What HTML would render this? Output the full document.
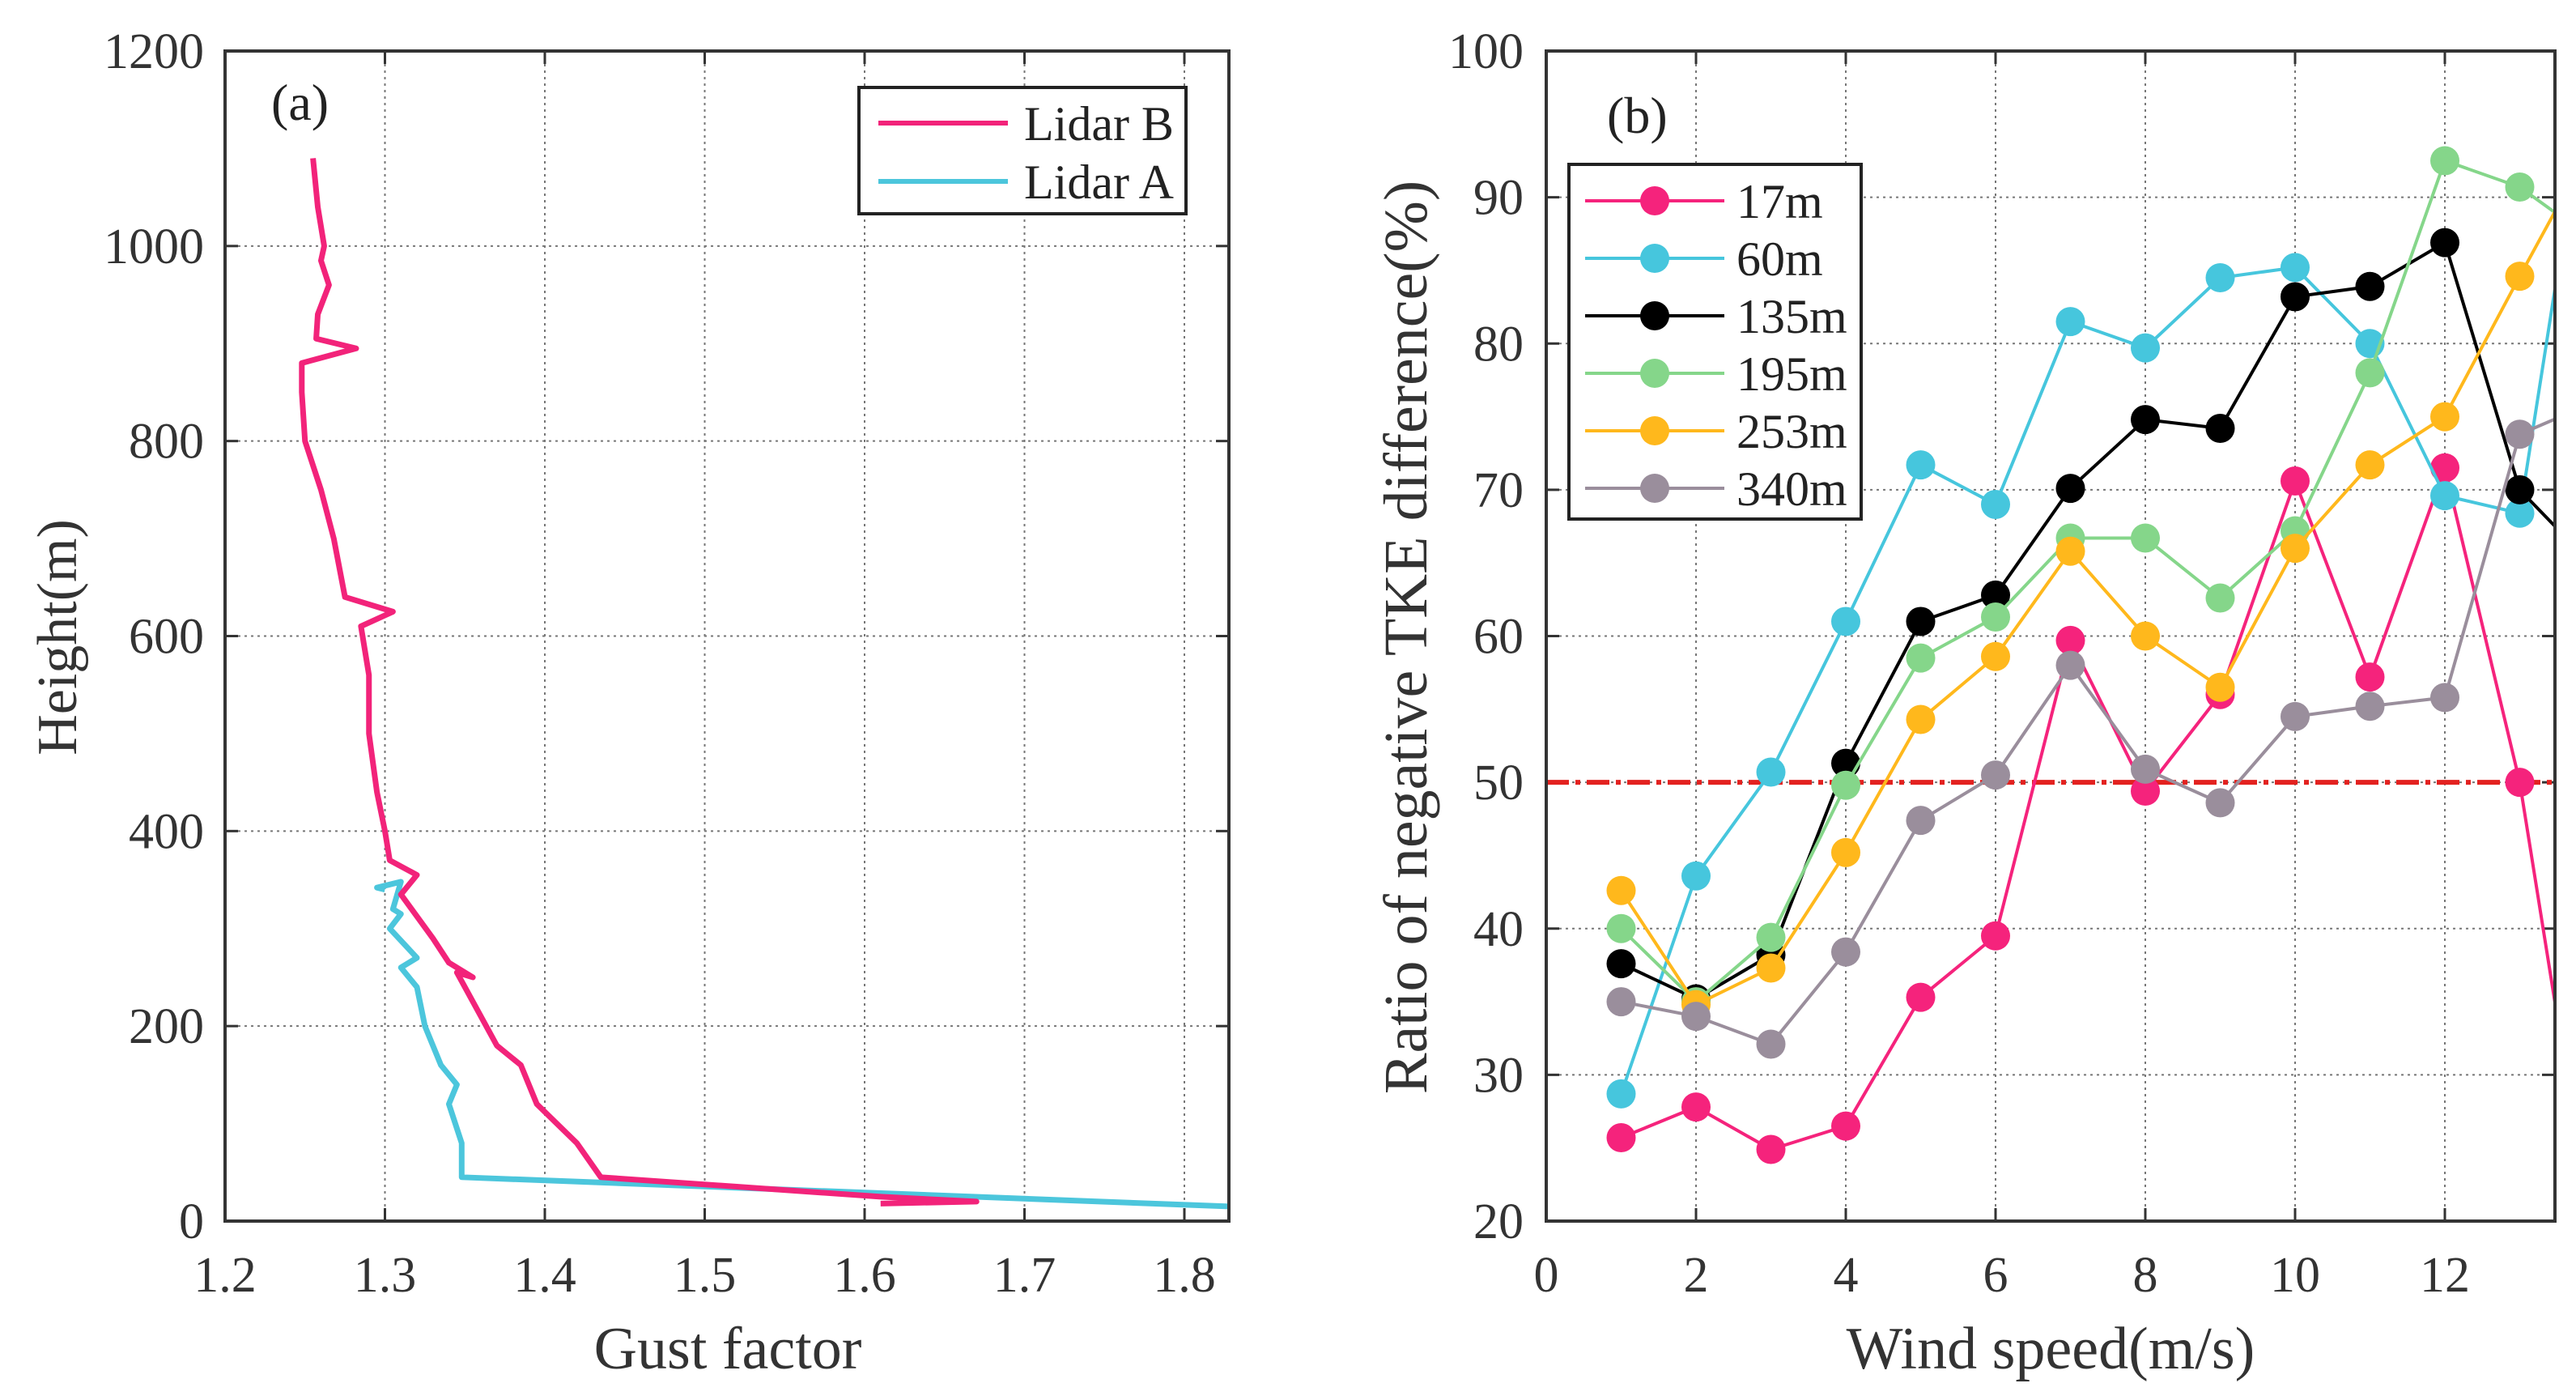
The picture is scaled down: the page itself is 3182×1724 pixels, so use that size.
<!DOCTYPE html>
<html><head><meta charset="utf-8"><style>
html,body{margin:0;padding:0;background:#fff}
svg{display:block;font-family:"Liberation Serif",serif}
</style></head><body>
<svg id="c" width="3182" height="1724" viewBox="0 0 3182 1724" xmlns="http://www.w3.org/2000/svg"></svg>
<script>
// Panel (a) data: gust factor vs height
const lidarBx=[1.255,1.258,1.262,1.26,1.265,1.258,1.257,1.282,1.248,1.248,1.25,1.26,1.268,1.275,1.305,1.285,1.29,1.29,1.295,1.3,1.303,1.32,1.31,1.33,1.34,1.355,1.345,1.36,1.37,1.385,1.395,1.42,1.435,1.61,1.67,1.61];
const lidarBh=[1090,1040,1000,985,960,930,905,895,880,850,800,750,700,640,625,610,560,500,440,400,370,355,335,290,265,250,255,210,180,160,120,80,45,25,20,18];
const lidarAx=[1.3,1.295,1.31,1.305,1.31,1.303,1.32,1.31,1.32,1.325,1.335,1.345,1.34,1.348,1.348,1.828];
const lidarAh=[340,342,348,320,315,300,270,260,240,200,160,140,120,80,45,15];
const aXTicks=[1.2,1.3,1.4,1.5,1.6,1.7,1.8];
const aYTicks=[0,200,400,600,800,1000,1200];
// Panel (b) data
const windSpeeds=[1,2,3,4,5,6,7,8,9,10,11,12,13,14];
const s17=[25.7,27.8,24.9,26.5,35.3,39.5,59.7,49.4,56,70.6,57.2,71.5,50,18];
const s60=[28.7,43.6,50.7,61,71.7,69,81.5,79.7,84.5,85.2,80,69.6,68.4,101];
const s135=[37.6,35.2,38.2,51.3,61,62.8,70.1,74.8,74.2,83.2,83.9,86.9,70,64.7];
const s195=[40,35,39.4,49.8,58.5,61.3,66.7,66.7,62.6,67.2,78,92.5,90.7,87];
const s253=[42.6,34.8,37.3,45.2,54.3,58.6,65.8,60,56.5,66,71.7,75,84.6,94];
const s340=[35,34,32.1,38.4,47.4,50.5,58,50.9,48.6,54.5,55.2,55.8,73.8,76];
const bXTicks=[0,2,4,6,8,10,12];
const bYTicks=[20,30,40,50,60,70,80,90,100];
const refLevel=50;

const NS="http://www.w3.org/2000/svg";
const svg=document.getElementById('c');
function el(tag,attrs,parent,text){const e=document.createElementNS(NS,tag);for(const k in attrs)e.setAttribute(k,attrs[k]);if(text!==undefined)e.textContent=text;(parent||svg).appendChild(e);return e;}

// ---------- Panel A ----------
const A={l:278,r:1518,t:63,b:1508,x0:1.2,x1:1.2+(1518-278)/1975,y0:0,y1:1200};
const ax=v=>A.l+(v-A.x0)/(A.x1-A.x0)*(A.r-A.l);
const ay=v=>A.b-(v-A.y0)/(A.y1-A.y0)*(A.b-A.t);
const gA=el('g',{});


aXTicks.forEach(v=>{const x=ax(v);
 if(v>1.2){const g=el('line',{x1:x,x2:x,y1:A.t,y2:A.b,stroke:'#777','stroke-width':2,'stroke-dasharray':'3,5'},gA);}
 el('line',{x1:x,x2:x,y1:A.b,y2:A.b-16,stroke:'#333','stroke-width':3},gA);
 el('line',{x1:x,x2:x,y1:A.t,y2:A.t+16,stroke:'#333','stroke-width':3},gA);
 const t=el('text',{x:x,y:1595,'font-size':62,'text-anchor':'middle',fill:'#333'},gA,v.toFixed(1));
 });
aYTicks.forEach(v=>{const y=ay(v);
 if(v>0&&v<1200){const g=el('line',{x1:A.l,x2:A.r,y1:y,y2:y,stroke:'#777','stroke-width':2,'stroke-dasharray':'3,5'},gA);}
 el('line',{x1:A.l,x2:A.l+16,y1:y,y2:y,stroke:'#333','stroke-width':3},gA);
 el('line',{x1:A.r,x2:A.r-16,y1:y,y2:y,stroke:'#333','stroke-width':3},gA);
 const t=el('text',{x:252,y:y+21,'font-size':62,'text-anchor':'end',fill:'#333'},gA,String(v));
 });
const cpA=el('clipPath',{id:'clipA'},gA);el('rect',{x:A.l,y:A.t,width:A.r-A.l,height:A.b-A.t},cpA);
function poly(xs,ys,fx,fy,color,w,parent,clip){return el('polyline',{points:xs.map((v,i)=>fx(v)+','+fy(ys[i])).join(' '),fill:'none',stroke:color,'stroke-width':w,'stroke-linejoin':'round','clip-path':'url(#'+clip+')'},parent);}
const pA=poly(lidarAx,lidarAh,ax,ay,'#4cc6dc',7,gA,'clipA');
const pB=poly(lidarBx,lidarBh,ax,ay,'#f2237a',7,gA,'clipA');
const frA=el('rect',{x:A.l,y:A.t,width:A.r-A.l,height:A.b-A.t,fill:'none',stroke:'#333','stroke-width':4},gA);
const tA=el('text',{x:335,y:148,'font-size':64,fill:'#222'},gA,'(a)');
const lgA=el('g',{},gA);
el('rect',{x:1061,y:108,width:404,height:156,fill:'#fff',stroke:'#222','stroke-width':4},lgA);
el('line',{x1:1085,x2:1245,y1:152,y2:152,stroke:'#f2237a','stroke-width':6},lgA);
el('line',{x1:1085,x2:1245,y1:224,y2:224,stroke:'#4cc6dc','stroke-width':6},lgA);
const la1=el('text',{x:1265,y:173,'font-size':60,fill:'#222'},lgA,'Lidar B');
const la2=el('text',{x:1265,y:245,'font-size':60,fill:'#222'},lgA,'Lidar A');
const xlA=el('text',{x:899,y:1690,'font-size':74,'text-anchor':'middle',fill:'#333'},gA,'Gust factor');
const ylA=el('text',{x:0,y:0,'font-size':70,'text-anchor':'middle',fill:'#333',transform:'translate(94,787) rotate(-90)'},gA,'Height(m)');

// ---------- Panel B ----------
const B={l:1910,r:3156,t:63,b:1508,x0:0,x1:(3156-1910)/92.5,y0:20,y1:100};
const bx=v=>B.l+(v-B.x0)/(B.x1-B.x0)*(B.r-B.l);
const by=v=>B.b-(v-B.y0)/(B.y1-B.y0)*(B.b-B.t);
const gB=el('g',{});


bXTicks.forEach(v=>{const x=bx(v);
 if(v>0){const g=el('line',{x1:x,x2:x,y1:B.t,y2:B.b,stroke:'#777','stroke-width':2,'stroke-dasharray':'3,5'},gB);}
 el('line',{x1:x,x2:x,y1:B.b,y2:B.b-16,stroke:'#333','stroke-width':3},gB);
 el('line',{x1:x,x2:x,y1:B.t,y2:B.t+16,stroke:'#333','stroke-width':3},gB);
 const t=el('text',{x:x,y:1595,'font-size':62,'text-anchor':'middle',fill:'#333'},gB,String(v));
 });
bYTicks.forEach(v=>{const y=by(v);
 if(v>20&&v<100){const g=el('line',{x1:B.l,x2:B.r,y1:y,y2:y,stroke:'#777','stroke-width':2,'stroke-dasharray':'3,5'},gB);}
 el('line',{x1:B.l,x2:B.l+16,y1:y,y2:y,stroke:'#333','stroke-width':3},gB);
 el('line',{x1:B.r,x2:B.r-16,y1:y,y2:y,stroke:'#333','stroke-width':3},gB);
 const t=el('text',{x:1882,y:y+21,'font-size':62,'text-anchor':'end',fill:'#333'},gB,String(v));
 });
const cpB=el('clipPath',{id:'clipB'},gB);el('rect',{x:B.l,y:B.t,width:B.r-B.l,height:B.b-B.t},cpB);
const ref=el('line',{x1:B.l,x2:B.r,y1:by(refLevel),y2:by(refLevel),stroke:'#e3211f','stroke-width':6,'stroke-dasharray':'28,8,6,8'},gB);

const series=[['17m',s17,'#f5237c'],['60m',s60,'#46c6dd'],['135m',s135,'#000000'],['195m',s195,'#85d68a'],['253m',s253,'#ffb81c'],['340m',s340,'#9a8e9c']];
series.forEach(([name,vals,col])=>{
 const g=el('g',{'clip-path':'url(#clipB)'},gB);
 
 
 el('polyline',{points:vals.map((v,i)=>bx(windSpeeds[i])+','+by(v)).join(' '),fill:'none',stroke:col,'stroke-width':4},g);
 vals.forEach((v,i)=>{const c=el('circle',{cx:bx(windSpeeds[i]),cy:by(v),r:18,fill:col},g);
  
  });
});
const frB=el('rect',{x:B.l,y:B.t,width:B.r-B.l,height:B.b-B.t,fill:'none',stroke:'#333','stroke-width':4},gB);
const tB=el('text',{x:1985,y:164,'font-size':64,fill:'#222'},gB,'(b)');
const lgB=el('g',{},gB);
el('rect',{x:1938,y:203,width:361,height:438,fill:'#fff',stroke:'#222','stroke-width':4},lgB);
series.forEach(([name,vals,col],i)=>{const y=248+i*71;
 el('line',{x1:1958,x2:2130,y1:y,y2:y,stroke:col,'stroke-width':4},lgB);
 el('circle',{cx:2044,cy:y,r:18,fill:col},lgB);
 const t=el('text',{x:2145,y:y+21,'font-size':60,fill:'#222'},lgB,name);
 });
const xlB=el('text',{x:2533,y:1690,'font-size':74,'text-anchor':'middle',fill:'#333'},gB,'Wind speed(m/s)');
const ylB=el('text',{x:0,y:0,'font-size':76,'text-anchor':'middle',fill:'#333',transform:'translate(1762,787) rotate(-90)'},gB,'Ratio of negative TKE difference(%)');
</script>
</body></html>
